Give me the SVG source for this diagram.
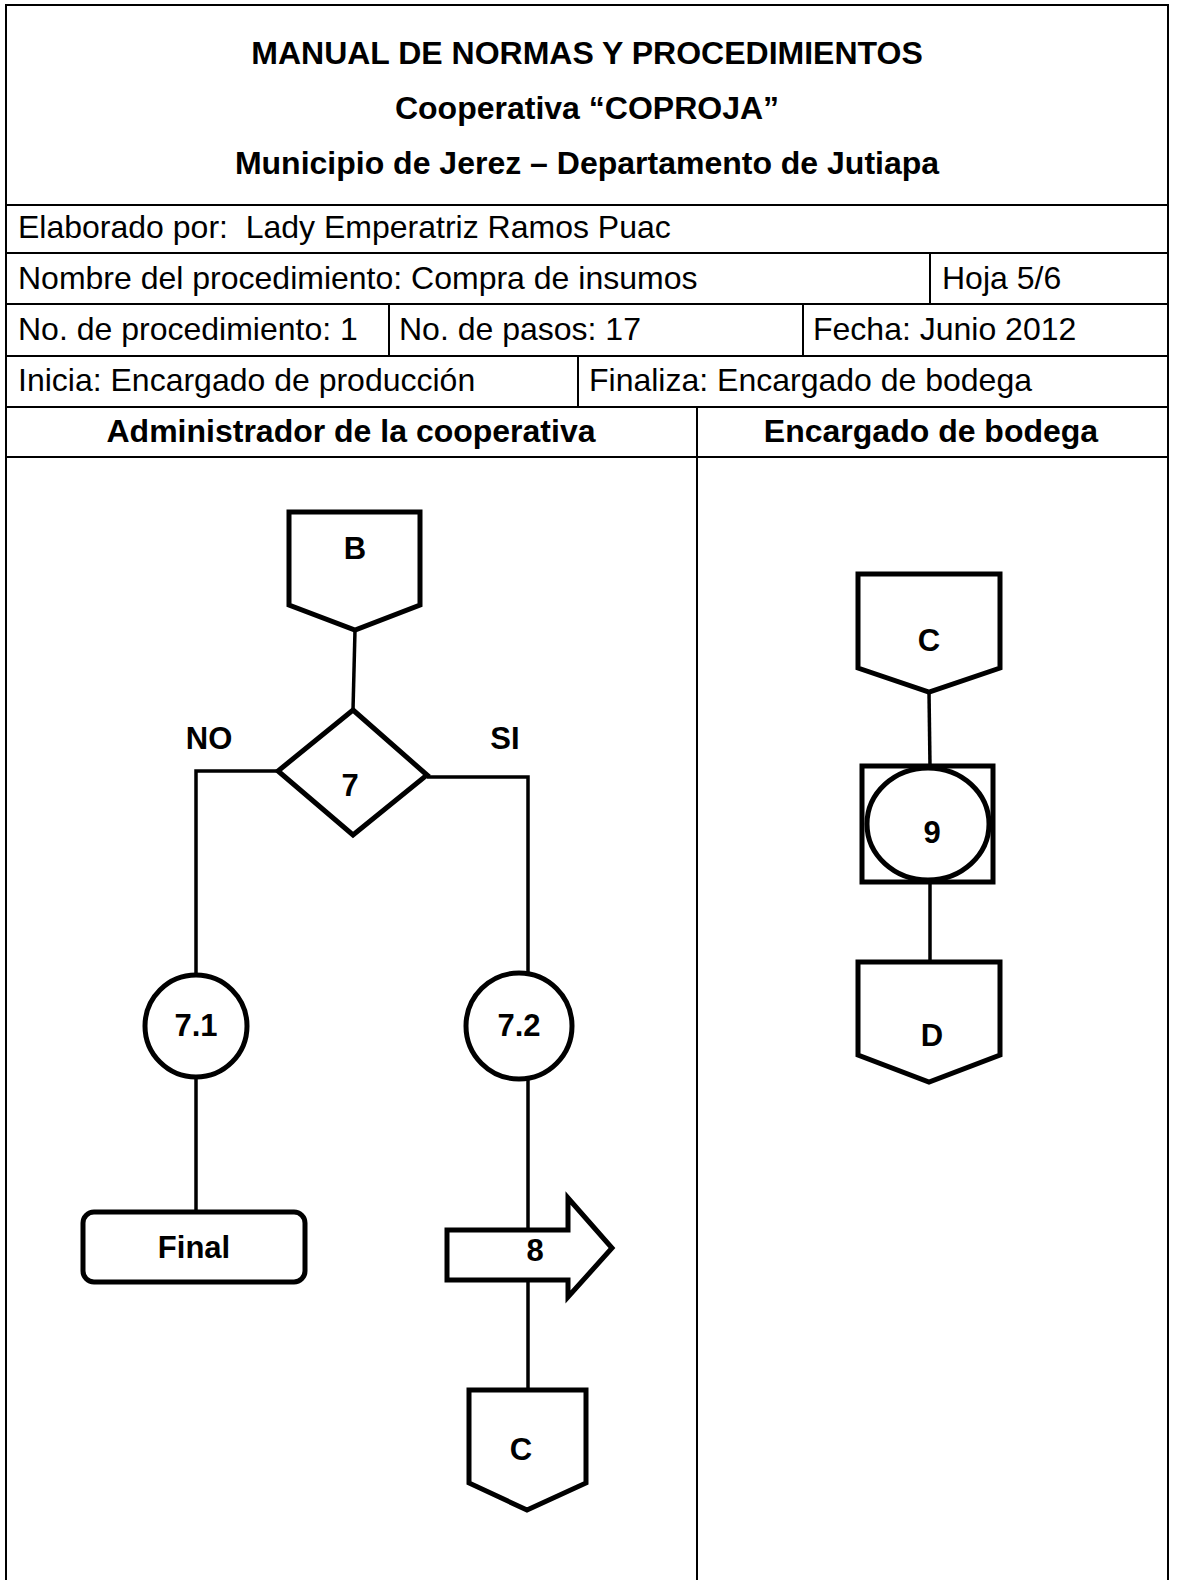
<svg xmlns="http://www.w3.org/2000/svg" width="1178" height="1580" viewBox="0 0 1178 1580">
<style>
.t{font-family:"Liberation Sans",Arial,sans-serif;font-size:32px;fill:#000}
.b{font-weight:bold}
.m{text-anchor:middle}
.lbl{font-family:"Liberation Sans",Arial,sans-serif;font-size:31px;font-weight:bold;fill:#000;text-anchor:middle}
.grid{stroke:#000;stroke-width:2;fill:none}
.shape{stroke:#000;stroke-width:5;fill:#fff;stroke-linejoin:miter}
.conn{stroke:#000;stroke-width:3.5;fill:none}
</style>
<rect x="0" y="0" width="1178" height="1580" fill="#fff"/>
<g id="table">
<rect class="grid" x="6" y="5" width="1162" height="1580"/>
<line class="grid" x1="6" y1="205" x2="1168" y2="205"/>
<line class="grid" x1="6" y1="253" x2="1168" y2="253"/>
<line class="grid" x1="6" y1="304" x2="1168" y2="304"/>
<line class="grid" x1="6" y1="356" x2="1168" y2="356"/>
<line class="grid" x1="6" y1="407" x2="1168" y2="407"/>
<line class="grid" x1="6" y1="457" x2="1168" y2="457"/>
<line class="grid" x1="930" y1="253" x2="930" y2="304"/>
<line class="grid" x1="389" y1="304" x2="389" y2="356"/>
<line class="grid" x1="803" y1="304" x2="803" y2="356"/>
<line class="grid" x1="578" y1="356" x2="578" y2="407"/>
<line class="grid" x1="697" y1="407" x2="697" y2="1580"/>
<text class="t b m" x="587" y="64">MANUAL DE NORMAS Y PROCEDIMIENTOS</text>
<text class="t b m" x="587" y="119">Cooperativa “COPROJA”</text>
<text class="t b m" x="587" y="174">Municipio de Jerez – Departamento de Jutiapa</text>
<text class="t" x="18" y="238" xml:space="preserve">Elaborado por:  Lady Emperatriz Ramos Puac</text>
<text class="t" x="18" y="289">Nombre del procedimiento: Compra de insumos</text>
<text class="t" x="942" y="289">Hoja 5/6</text>
<text class="t" x="18" y="340">No. de procedimiento: 1</text>
<text class="t" x="399" y="340">No. de pasos: 17</text>
<text class="t" x="813" y="340">Fecha: Junio 2012</text>
<text class="t" x="18" y="391">Inicia: Encargado de producción</text>
<text class="t" x="589" y="391">Finaliza: Encargado de bodega</text>
<text class="t b m" x="351" y="442">Administrador de la cooperativa</text>
<text class="t b m" x="931" y="442">Encargado de bodega</text>
</g>
<g id="connectors">
<line class="conn" x1="355" y1="630" x2="353" y2="710"/>
<polyline class="conn" points="278,771 196,771 196,975"/>
<polyline class="conn" points="427,777 528,777 528,975"/>
<line class="conn" x1="196" y1="1077" x2="196" y2="1212"/>
<line class="conn" x1="528" y1="1077" x2="528" y2="1230"/>
<line class="conn" x1="528" y1="1280" x2="528" y2="1390"/>
<line class="conn" x1="929" y1="692" x2="930" y2="766"/>
<line class="conn" x1="930" y1="882" x2="930" y2="962"/>
<text class="lbl" x="209" y="749">NO</text>
<text class="lbl" x="505" y="749">SI</text>
</g>
<g id="node-B">
<polygon class="shape" points="289,512 420,512 420,605 355,630 289,605"/>
<text class="lbl" x="355" y="559">B</text>
</g>
<g id="node-7">
<polygon class="shape" points="353,710 427,775 353,835 278,771"/>
<text class="lbl" x="350" y="796">7</text>
</g>
<g id="node-7-1">
<circle class="shape" cx="196" cy="1026" r="51"/>
<text class="lbl" x="196" y="1036">7.1</text>
</g>
<g id="node-7-2">
<circle class="shape" cx="519" cy="1026" r="53"/>
<text class="lbl" x="519" y="1036">7.2</text>
</g>
<g id="node-final">
<rect class="shape" x="83" y="1212" width="222" height="70" rx="11"/>
<text class="lbl" x="194" y="1258">Final</text>
</g>
<g id="node-8">
<polygon class="shape" points="447,1230 568,1230 568,1198 612,1248 568,1297 568,1280 447,1280"/>
<text class="lbl" x="535" y="1261">8</text>
</g>
<g id="node-C-out">
<polygon class="shape" points="469,1390 586,1390 586,1483 527,1510 469,1483"/>
<text class="lbl" x="521" y="1460">C</text>
</g>
<g id="node-C-in">
<polygon class="shape" points="858,574 1000,574 1000,668 929,692 858,668"/>
<text class="lbl" x="929" y="651">C</text>
</g>
<g id="node-9">
<rect class="shape" x="862" y="766" width="131" height="116"/>
<ellipse class="shape" cx="928" cy="824" rx="61" ry="56"/>
<text class="lbl" x="932" y="843">9</text>
</g>
<g id="node-D">
<polygon class="shape" points="858,962 1000,962 1000,1055 929,1082 858,1055"/>
<text class="lbl" x="932" y="1046">D</text>
</g>
</svg>
